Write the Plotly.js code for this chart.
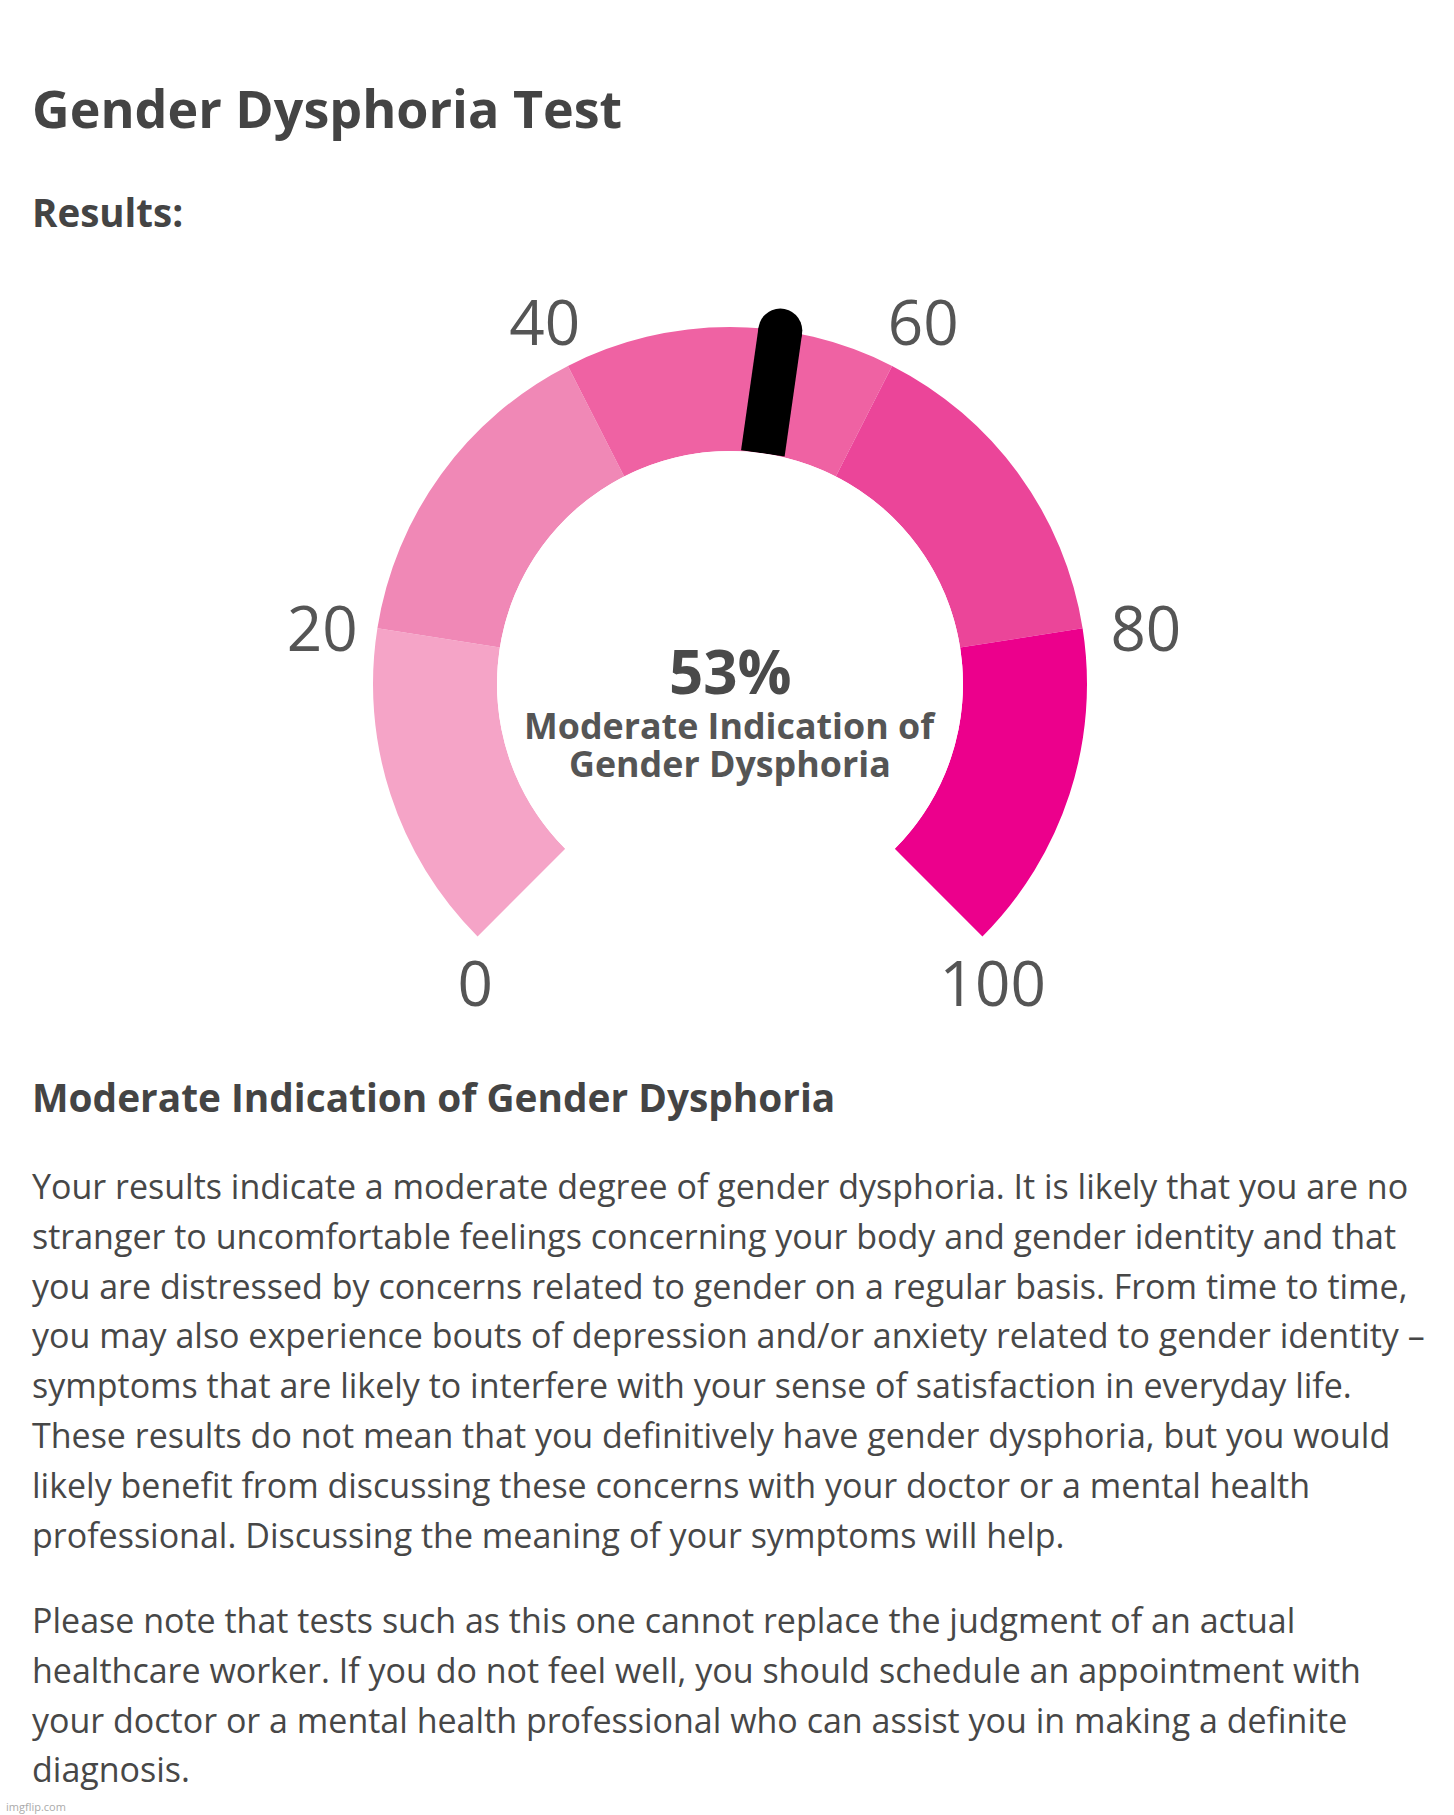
<!DOCTYPE html>
<html>
<head>
<meta charset="utf-8">
<script src="https://cdn.plot.ly/plotly-3.0.1.min.js"></script>
<style>
  html, body { margin: 0; padding: 0; background: #ffffff; }
  #chart { width: 1454px; height: 1815px; }
</style>
</head>
<body>
<div id="chart"></div>
<script>
// ---------------- data ----------------
const scoreValue = 53;
const gaugeMin = 0;
const gaugeMax = 100;
const bandStarts = [0, 20, 40, 60, 80];
const bandEnds = [20, 40, 60, 80, 100];
const tickValues = [0, 20, 40, 60, 80, 100];
const tickLabels = ['0', '20', '40', '60', '80', '100'];
const scoreText = '53%';
const resultLines = ['Moderate Indication of', 'Gender Dysphoria'];
const pageTitle = 'Gender Dysphoria Test';
const resultsHeading = 'Results:';
const sectionHeading = 'Moderate Indication of Gender Dysphoria';
const paragraph1 = [
  'Your results indicate a moderate degree of gender dysphoria. It is likely that you are no',
  'stranger to uncomfortable feelings concerning your body and gender identity and that',
  'you are distressed by concerns related to gender on a regular basis. From time to time,',
  'you may also experience bouts of depression and/or anxiety related to gender identity –',
  'symptoms that are likely to interfere with your sense of satisfaction in everyday life.',
  'These results do not mean that you definitively have gender dysphoria, but you would',
  'likely benefit from discussing these concerns with your doctor or a mental health',
  'professional. Discussing the meaning of your symptoms will help.'
];
const paragraph2 = [
  'Please note that tests such as this one cannot replace the judgment of an actual',
  'healthcare worker. If you do not feel well, you should schedule an appointment with',
  'your doctor or a mental health professional who can assist you in making a definite',
  'diagnosis.'
];
const watermark = 'imgflip.com';

// ---------------- styles ----------------
const W = 1454, H = 1815;
const FONT = '"Open Sans", "Noto Sans", sans-serif';
const bandColors = ['#F5A4C7', '#F088B6', '#EF62A3', '#EB4599', '#EC008C'];
const sweepDeg = 270;                 // gauge spans 270 degrees
const degPerUnit = sweepDeg / (gaugeMax - gaugeMin);
const cx = 730, cy = 684;             // gauge centre (px)
const ringInner = 233, ringOuter = 357, polarR = 430;
const labelShiftX = 4, labelShiftY = 17; // tick-label ring sits slightly lower/right
const labelR = 417, endLabelR = 366;
const needleWidth = 44;

const px = x => x / W;
const py = y => 1 - y / H;
const toTheta = v => (v - gaugeMin) * degPerUnit;

// ---------------- traces ----------------
const bands = {
  type: 'barpolar',
  subplot: 'polar',
  r: bandStarts.map(() => ringOuter - ringInner),
  base: ringInner,
  theta: bandStarts.map((s, i) => toTheta((s + bandEnds[i]) / 2)),
  width: bandStarts.map((s, i) => (bandEnds[i] - s) * degPerUnit),
  marker: { color: bandColors, line: { width: 0 } },
  hoverinfo: 'skip',
  showlegend: false
};

const needle = {
  type: 'scatterpolar',
  subplot: 'polar',
  mode: 'lines',
  r: [ringInner, ringOuter],
  theta: [toTheta(scoreValue), toTheta(scoreValue)],
  line: { color: '#000000', width: needleWidth },
  cliponaxis: false,
  hoverinfo: 'skip',
  showlegend: false
};

const needleCap = {
  type: 'scatterpolar',
  subplot: 'polar',
  mode: 'markers',
  r: [ringOuter],
  theta: [toTheta(scoreValue)],
  marker: { color: '#000000', size: needleWidth, opacity: 1, line: { width: 0, color: '#000000' } },
  opacity: 1,
  cliponaxis: false,
  hoverinfo: 'skip',
  showlegend: false
};

const isEnd = v => v === gaugeMin || v === gaugeMax;
const labels = {
  type: 'scatterpolar',
  subplot: 'polar2',
  mode: 'text',
  r: tickValues.map(v => isEnd(v) ? endLabelR : labelR),
  theta: tickValues.map(toTheta),
  text: tickLabels,
  textposition: tickValues.map(v => isEnd(v) ? 'bottom center' : 'middle center'),
  textfont: { family: FONT, size: 62, color: '#555555', weight: 400 },
  cliponaxis: false,
  hoverinfo: 'skip',
  showlegend: false
};

// ---------------- annotations ----------------
const ann = [];
function addText(text, x, y, size, weight, color, anchor) {
  ann.push({
    xref: 'paper', yref: 'paper', x: px(x), y: py(y),
    xanchor: anchor || 'left', yanchor: 'middle',
    text: text, showarrow: false,
    font: { family: FONT, size: size, color: color, weight: weight }
  });
}
addText(pageTitle, 30, 108, 52, 700, '#444444');
addText(resultsHeading, 30, 212, 38.5, 700, '#444444');
addText(scoreText, cx, 671, 60, 700, '#4a4a4a', 'center');
addText(resultLines[0], cx, 725, 35.8, 700, '#555555', 'center');
addText(resultLines[1], cx, 763, 35.8, 700, '#555555', 'center');
addText(sectionHeading, 30, 1097, 38.8, 700, '#444444');
const lineH = 49.8;
paragraph1.forEach((t, i) => addText(t, 30, 1186 + i * lineH, 34, 400, '#474747'));
paragraph2.forEach((t, i) => addText(t, 30, 1620 + i * lineH, 34, 400, '#474747'));
addText(watermark, 4, 1806, 11, 400, '#aaaaaa');

// ---------------- layout ----------------
function polarLayout(shiftX, shiftY) {
  return {
    domain: {
      x: [px(cx + shiftX - polarR), px(cx + shiftX + polarR)],
      y: [py(cy + shiftY + polarR), py(cy + shiftY - polarR)]
    },
    hole: ringInner / polarR,
    bgcolor: 'rgba(0,0,0,0)',
    radialaxis: { range: [ringInner, polarR], visible: false, showgrid: false, showline: false, showticklabels: false, ticks: '' },
    angularaxis: { rotation: 225, direction: 'clockwise', visible: false, showgrid: false, showline: false, showticklabels: false, ticks: '' }
  };
}

const layout = {
  width: W, height: H,
  margin: { l: 0, r: 0, t: 0, b: 0 },
  paper_bgcolor: '#ffffff',
  plot_bgcolor: '#ffffff',
  showlegend: false,
  polar: polarLayout(0, 0),
  polar2: polarLayout(labelShiftX, labelShiftY),
  annotations: ann
};

Plotly.newPlot('chart', [bands, needle, needleCap, labels], layout, { displayModeBar: false, staticPlot: true });
</script>
</body>
</html>
